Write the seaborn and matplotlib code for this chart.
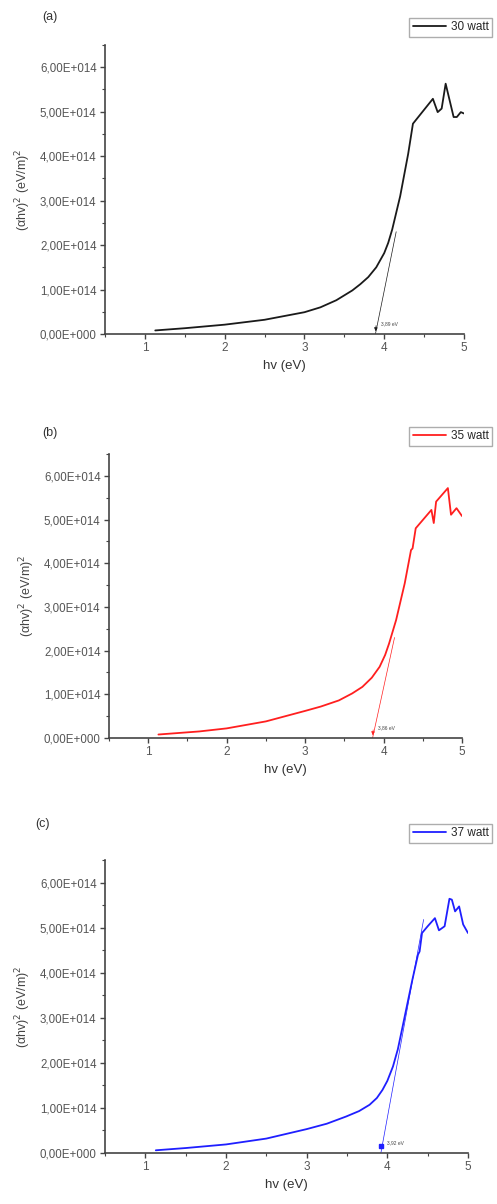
import numpy as np
import pandas as pd
import matplotlib
matplotlib.use("Agg")
import matplotlib.pyplot as plt
from matplotlib.ticker import FuncFormatter, MultipleLocator
import seaborn as sns

sns.set_style("ticks")
plt.rcParams["font.family"] = ["Liberation Sans", "DejaVu Sans"]

# photon energy (eV) and (ahv)^2 in units of 1E+014 (eV/m)^2
hv_a = [1.13, 1.5, 2.0, 2.5, 3.0, 3.2, 3.4, 3.6, 3.7, 3.8, 3.9, 4.0, 4.05, 4.1,
        4.2, 4.3, 4.36, 4.61, 4.67, 4.72, 4.77, 4.87, 4.91, 4.96, 5.0]
val_a = [0.08, 0.13, 0.21, 0.32, 0.49, 0.60, 0.76, 0.98, 1.12, 1.28, 1.50, 1.82, 2.05, 2.35,
         3.10, 4.05, 4.73, 5.29, 4.99, 5.07, 5.63, 4.88, 4.88, 4.99, 4.96]

hv_b = [1.13, 1.65, 2.0, 2.5, 3.0, 3.2, 3.43, 3.6, 3.73, 3.85, 3.95, 4.02, 4.07,
        4.16, 4.27, 4.35, 4.37, 4.41, 4.61, 4.64, 4.67, 4.82, 4.86, 4.93, 5.0]
val_b = [0.08, 0.15, 0.22, 0.38, 0.62, 0.72, 0.86, 1.02, 1.17, 1.38, 1.63, 1.90, 2.16,
         2.70, 3.54, 4.30, 4.34, 4.80, 5.22, 4.92, 5.41, 5.72, 5.11, 5.26, 5.08]

hv_c = [1.13, 1.5, 2.0, 2.5, 3.0, 3.25, 3.49, 3.65, 3.78, 3.87, 3.94, 4.0, 4.07,
        4.13, 4.19, 4.31, 4.38, 4.40, 4.43, 4.50, 4.59, 4.64, 4.71, 4.77, 4.80,
        4.84, 4.89, 4.94, 5.0]
val_c = [0.06, 0.11, 0.19, 0.32, 0.53, 0.65, 0.81, 0.93, 1.07, 1.22, 1.40, 1.60, 1.92,
         2.30, 2.81, 3.84, 4.40, 4.47, 4.88, 5.03, 5.21, 4.94, 5.03, 5.64, 5.62,
         5.36, 5.47, 5.07, 4.88]

# tangent lines (x, y in 1E+014) and band gap labels
tan_a = ([4.15, 3.89], [2.3, 0.0])
tan_b = ([4.14, 3.86], [2.3, 0.0])
tan_c = ([4.45, 3.92], [5.18, 0.0])
gap_labels = ["3,89 eV", "3,86 eV", "3,92 eV"]
gap_marker = ["arrow", "arrow", "square"]
series_labels = ["30 watt", "35 watt", "37 watt"]
panel_labels = ["(a)", "(b)", "(c)"]
colors = ["#1a1a1a", "#ff1f1f", "#1f1fff"]

W, H = 497, 1204
fig = plt.figure(figsize=(W / 100, H / 100), dpi=100)

# axes boxes in pixels: left, right, top, bottom
boxes = [(105, 464, 45, 334), (109, 462, 454, 738), (105, 468, 860, 1153)]
legend_px = [(492, 37), (492, 446), (492, 843)]
panel_px = [(50, 17), (50, 433), (42, 824)]

data = [(hv_a, val_a, tan_a), (hv_b, val_b, tan_b), (hv_c, val_c, tan_c)]


def fmt(v, pos):
    if abs(v) < 1:
        return "0,00E+000"
    return f"{v / 1e14:.2f}".replace(".", ",") + "E+014"


for i, (hv, val, tan) in enumerate(data):
    l, r, t, b = boxes[i]
    ax = fig.add_axes([l / W, 1 - b / H, (r - l) / W, (b - t) / H])
    df = pd.DataFrame({"hv": hv, "y": np.array(val) * 1e14})
    sns.lineplot(data=df, x="hv", y="y", ax=ax, color=colors[i], lw=1.3,
                 label=series_labels[i], legend=False)
    tx = np.array(tan[0])
    ty = np.array(tan[1]) * 1e14
    ax.plot(tx, ty, color=colors[i], lw=0.5)
    if gap_marker[i] == "arrow":
        ax.annotate("", xy=(tx[1], ty[1]), xytext=(tx[1] + 0.01, ty[1] + 0.25e14),
                    arrowprops=dict(arrowstyle="-|>", color=colors[i], lw=0.5,
                                    mutation_scale=5))
    else:
        ax.plot(tx[1], ty[1] + 0.15e14, marker="s", ms=3, color=colors[i])
    ax.text(tx[1] + 0.07, 0.2e14, gap_labels[i], fontsize=3.5, color="#444444")

    ax.set_xlim(0.5, 5)
    ax.set_ylim(0, 6.5e14)
    ax.xaxis.set_major_locator(MultipleLocator(1))
    ax.xaxis.set_minor_locator(MultipleLocator(0.5))
    ax.yaxis.set_major_locator(MultipleLocator(1e14))
    ax.yaxis.set_minor_locator(MultipleLocator(0.5e14))
    ax.yaxis.set_major_formatter(FuncFormatter(fmt))
    ax.tick_params(which="major", length=3.5, width=1, colors="#444444",
                   labelsize=8.3, labelcolor="#555555", pad=2.5)
    ax.tick_params(which="minor", length=2, width=0.8, colors="#444444")
    ax.tick_params(axis="x", labelsize=8.5)
    sns.despine(ax=ax)
    for s in ["left", "bottom"]:
        ax.spines[s].set_color("#444444")
        ax.spines[s].set_linewidth(1.2)

    ax.set_xlabel("hv (eV)", fontsize=9.5, color="#333333", labelpad=4)
    ax.set_ylabel("(αhv)$^2$ (eV/m)$^2$", fontsize=9, color="#444444", labelpad=5)

    lx, ly = legend_px[i]
    ax.legend(loc="lower right", bbox_to_anchor=(lx / W, 1 - ly / H),
              bbox_transform=fig.transFigure, frameon=True, fancybox=False,
              edgecolor="#999999", fontsize=8.5, handlelength=2.8,
              borderpad=0.3, handletextpad=0.4, borderaxespad=0)
    px, py = panel_px[i]
    fig.text(px / W, 1 - py / H, panel_labels[i], fontsize=9, color="#333333",
             ha="center", va="center")

fig.savefig("out.png", dpi=100)
